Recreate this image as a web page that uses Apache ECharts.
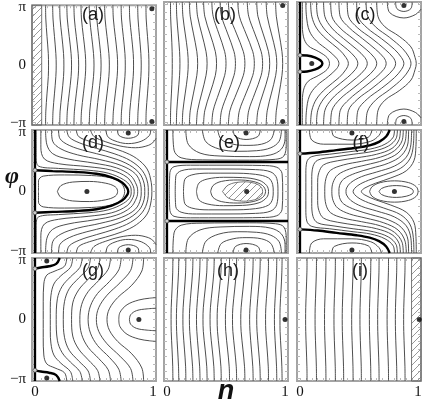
<!DOCTYPE html>
<html>
<head>
<meta charset="utf-8">
<title>phase portraits (a)-(i)</title>
<script src="https://cdn.jsdelivr.net/npm/echarts@6/dist/echarts.min.js"></script>
<style>
  html, body { margin: 0; padding: 0; background: #fff; }
  #chart { width: 425px; height: 407px; }
</style>
</head>
<body>
<div id="chart"></div>
<script>
// n runs 0..1, phi is kept in units of pi (1 = π)
const panelNames = ['(a)', '(b)', '(c)', '(d)', '(e)', '(f)', '(g)', '(h)', '(i)']
const nTicks = [0, 0.05, 0.1, 0.15, 0.2, 0.25, 0.3, 0.35, 0.4, 0.45, 0.5, 0.55, 0.6, 0.65, 0.7, 0.75, 0.8, 0.85, 0.9, 0.95, 1]
const phiTicks = [-1, -0.875, -0.75, -0.625, -0.5, -0.375, -0.25, -0.125, 0, 0.125, 0.25, 0.375, 0.5, 0.625, 0.75, 0.875, 1]
const nLabelValues = [0, 1]
const nLabels = ['0', '1']
const phiLabelValues = [-1, 0, 1]
const phiLabels = ['−π', '0', 'π']

// near-vertical curves: n read at these phi rows (upper half, mirrored below)
const phiSteps = [1.04, 0.8, 0.5, 0.2, 0]

// (a)
const aCurves = [
  [0.090, 0.092, 0.102, 0.113, 0.115],
  [0.150, 0.153, 0.165, 0.177, 0.180],
  [0.210, 0.213, 0.228, 0.242, 0.245],
  [0.270, 0.274, 0.290, 0.306, 0.310],
  [0.330, 0.334, 0.350, 0.366, 0.370],
  [0.390, 0.394, 0.410, 0.426, 0.430],
  [0.460, 0.464, 0.480, 0.496, 0.500],
  [0.520, 0.524, 0.540, 0.556, 0.560],
  [0.590, 0.594, 0.610, 0.626, 0.630],
  [0.660, 0.664, 0.680, 0.696, 0.700],
  [0.730, 0.733, 0.748, 0.762, 0.765],
  [0.800, 0.803, 0.818, 0.832, 0.835],
  [0.870, 0.873, 0.885, 0.897, 0.900],
  [0.940, 0.942, 0.953, 0.963, 0.965]
]
const aHatch = [[-0.025, 0], [-0.025, 1.04], [0.057, 1.04], [0.057, 0]]
const aDots = [[0.99, 0.98], [0.99, -0.98]]

// (b)
const bCurves = [
  [0.030, 0.031, 0.038, 0.044, 0.045],
  [0.080, 0.083, 0.095, 0.107, 0.110],
  [0.130, 0.135, 0.155, 0.175, 0.180],
  [0.190, 0.197, 0.225, 0.253, 0.260],
  [0.250, 0.259, 0.295, 0.331, 0.340],
  [0.310, 0.320, 0.365, 0.410, 0.420],
  [0.380, 0.391, 0.440, 0.489, 0.500],
  [0.450, 0.462, 0.515, 0.568, 0.580],
  [0.520, 0.533, 0.590, 0.647, 0.660],
  [0.600, 0.613, 0.670, 0.727, 0.740],
  [0.680, 0.692, 0.745, 0.798, 0.810],
  [0.760, 0.770, 0.815, 0.860, 0.870],
  [0.840, 0.849, 0.885, 0.921, 0.930],
  [0.920, 0.926, 0.950, 0.974, 0.980]
]
const bDots = [[0.98, 0.98], [0.98, -0.98]]

// (c)
const cLines = [
  [[0.02, 1.04], [0.02, 0.7], [0.03, 0.45], [0.07, 0.3], [0.16, 0.2], [0.23, 0.1], [0.25, 0]],
  [[0.05, 1.04], [0.055, 0.8], [0.08, 0.55], [0.14, 0.38], [0.24, 0.22], [0.31, 0.09], [0.33, 0]],
  [[0.09, 1.04], [0.10, 0.8], [0.14, 0.6], [0.22, 0.42], [0.33, 0.24], [0.39, 0.1], [0.41, 0]],
  [[0.14, 1.04], [0.15, 0.8], [0.20, 0.6], [0.29, 0.42], [0.40, 0.24], [0.47, 0.1], [0.49, 0]],
  [[0.20, 1.04], [0.21, 0.8], [0.27, 0.6], [0.37, 0.42], [0.48, 0.24], [0.55, 0.1], [0.57, 0]],
  [[0.26, 1.04], [0.27, 0.8], [0.34, 0.6], [0.45, 0.42], [0.56, 0.24], [0.63, 0.1], [0.65, 0]],
  [[0.33, 1.04], [0.34, 0.8], [0.42, 0.6], [0.53, 0.42], [0.64, 0.24], [0.71, 0.1], [0.73, 0]],
  [[0.40, 1.04], [0.41, 0.8], [0.49, 0.6], [0.61, 0.42], [0.72, 0.24], [0.79, 0.1], [0.81, 0]],
  [[0.48, 1.04], [0.49, 0.8], [0.57, 0.6], [0.69, 0.42], [0.80, 0.24], [0.86, 0.1], [0.88, 0]],
  [[0.56, 1.04], [0.57, 0.82], [0.64, 0.62], [0.76, 0.44], [0.87, 0.25], [0.925, 0.1], [0.94, 0]],
  [[0.65, 1.04], [0.66, 0.8], [0.72, 0.62], [0.84, 0.46], [0.94, 0.28], [0.975, 0.1], [0.985, 0]],
  [[0.81, 1.04], [0.82, 0.93], [0.88, 0.88], [0.94, 0.93], [0.95, 1.04]],
  [[0.74, 1.04], [0.76, 0.86], [0.88, 0.77], [0.98, 0.83], [1.025, 0.92]]
]
const cThick = [
  [[0, 1.04], [0, 0]],
  [[0, 0.14], [0.06, 0.135], [0.13, 0.10], [0.175, 0.05], [0.19, 0]]
]
const cDots = [[0.10, 0], [0.88, 0.98], [0.88, -0.98]]
const cStars = [[0, 0.14], [0, -0.14]]

// (d)
const dLines = [
  [[0.19, 0], [0.22, 0.1], [0.32, 0.16], [0.46, 0.17], [0.60, 0.14], [0.68, 0.08], [0.70, 0]],
  [[0.03, 0], [0.03, 0.18], [0.07, 0.26], [0.25, 0.28], [0.48, 0.27], [0.64, 0.23], [0.73, 0.14], [0.76, 0]],
  [[0.01, 1.04], [0.01, 0.6], [0.03, 0.43], [0.2, 0.39], [0.45, 0.36], [0.62, 0.31], [0.75, 0.2], [0.81, 0.08], [0.815, 0]],
  [[0.05, 1.04], [0.05, 0.75], [0.08, 0.55], [0.2, 0.47], [0.45, 0.42], [0.65, 0.36], [0.78, 0.24], [0.83, 0.1], [0.84, 0]],
  [[0.09, 1.04], [0.10, 0.8], [0.15, 0.64], [0.28, 0.55], [0.5, 0.48], [0.69, 0.40], [0.81, 0.27], [0.86, 0.11], [0.87, 0]],
  [[0.14, 1.04], [0.15, 0.85], [0.22, 0.72], [0.36, 0.62], [0.55, 0.54], [0.73, 0.44], [0.85, 0.3], [0.895, 0.12], [0.90, 0]],
  [[0.20, 1.04], [0.21, 0.9], [0.29, 0.78], [0.44, 0.68], [0.6, 0.6], [0.77, 0.48], [0.88, 0.32], [0.925, 0.13], [0.93, 0]],
  [[0.27, 1.04], [0.29, 0.92], [0.38, 0.82], [0.52, 0.73], [0.67, 0.64], [0.81, 0.52], [0.91, 0.35], [0.955, 0.14], [0.96, 0]],
  [[0.35, 1.04], [0.37, 0.93], [0.46, 0.85], [0.6, 0.77], [0.74, 0.68], [0.86, 0.56], [0.95, 0.38], [0.985, 0.15], [0.99, 0]],
  [[0.70, 1.04], [0.71, 0.95], [0.79, 0.9], [0.87, 0.95], [0.88, 1.04]],
  [[0.60, 1.04], [0.62, 0.92], [0.70, 0.84], [0.79, 0.81], [0.90, 0.85], [0.97, 0.95], [0.98, 1.04]],
  [[0.47, 1.04], [0.50, 0.93], [0.60, 0.84], [0.72, 0.77], [0.85, 0.74], [0.96, 0.78], [1.01, 0.85], [1.025, 0.9]]
]
const dThick = [
  [[0, 1.04], [0, 0]],
  [[0, 0.36], [0.15, 0.345], [0.35, 0.33], [0.52, 0.3], [0.65, 0.24], [0.74, 0.15], [0.78, 0.06], [0.79, 0]]
]
const dDots = [[0.44, 0], [0.79, 0.99], [0.79, -0.99]]
const dStars = [[0, 0.36], [0, -0.36]]

// (e)
const eLines = [
  [[0.02, 0], [0.025, 0.32], [0.06, 0.42], [0.2, 0.445], [0.5, 0.445], [0.8, 0.44], [0.93, 0.41], [0.975, 0.3], [0.98, 0]],
  [[0.07, 0], [0.075, 0.26], [0.12, 0.35], [0.25, 0.38], [0.5, 0.38], [0.75, 0.37], [0.88, 0.33], [0.93, 0.22], [0.94, 0]],
  [[0.14, 0], [0.15, 0.2], [0.21, 0.28], [0.35, 0.31], [0.55, 0.31], [0.75, 0.29], [0.86, 0.23], [0.895, 0.12], [0.90, 0]],
  [[0.25, 0], [0.27, 0.14], [0.34, 0.21], [0.48, 0.24], [0.64, 0.235], [0.78, 0.19], [0.845, 0.1], [0.86, 0]],
  [[0.37, 0], [0.39, 0.1], [0.46, 0.17], [0.6, 0.195], [0.73, 0.17], [0.81, 0.1], [0.835, 0]],
  [[0.56, 1.04], [0.58, 0.93], [0.67, 0.88], [0.77, 0.93], [0.79, 1.04]],
  [[0.43, 1.04], [0.46, 0.88], [0.56, 0.8], [0.67, 0.78], [0.80, 0.8], [0.88, 0.88], [0.91, 1.04]],
  [[0.30, 1.04], [0.33, 0.84], [0.44, 0.72], [0.60, 0.68], [0.76, 0.69], [0.88, 0.74], [0.95, 0.85], [0.97, 1.04]],
  [[0.16, 1.04], [0.18, 0.8], [0.28, 0.65], [0.45, 0.6], [0.70, 0.59], [0.88, 0.62], [0.97, 0.72], [1.0, 0.9], [1.0, 1.04]],
  [[0.05, 1.04], [0.06, 0.7], [0.12, 0.57], [0.30, 0.535], [0.70, 0.53], [0.92, 0.545], [0.99, 0.6], [1.01, 0.8], [1.01, 1.04]]
]
const eThick = [
  [[0, 1.04], [0, 0]],
  [[0, 0.5], [1.025, 0.5]]
]
const eHatch = [[0.47, 0], [0.52, 0.11], [0.62, 0.16], [0.72, 0.15], [0.79, 0.09], [0.81, 0]]
const eDots = [[0.675, 0], [0.67, 0.99], [0.67, -0.99]]
const eStars = [[0, 0.5], [0, -0.5]]

// (f)
const fLines = [
  [[0.27, 1.04], [0.29, 0.93], [0.44, 0.87], [0.58, 0.92], [0.61, 1.04]],
  [[0.08, 1.04], [0.10, 0.87], [0.20, 0.8], [0.44, 0.8], [0.60, 0.85], [0.67, 0.95], [0.69, 1.04]],
  [[0.80, 1.04], [0.79, 0.92], [0.72, 0.8], [0.6, 0.72], [0.45, 0.68], [0.25, 0.63], [0.1, 0.59], [0.058, 0.5], [0.05, 0.3], [0.05, 0]],
  [[0.825, 1.04], [0.815, 0.9], [0.75, 0.77], [0.62, 0.68], [0.45, 0.63], [0.28, 0.58], [0.15, 0.53], [0.11, 0.42], [0.10, 0.2], [0.10, 0]],
  [[0.85, 1.04], [0.84, 0.88], [0.78, 0.73], [0.65, 0.63], [0.48, 0.57], [0.32, 0.52], [0.2, 0.45], [0.16, 0.32], [0.15, 0.15], [0.15, 0]],
  [[0.875, 1.04], [0.865, 0.86], [0.8, 0.69], [0.68, 0.58], [0.52, 0.51], [0.37, 0.45], [0.26, 0.36], [0.22, 0.22], [0.21, 0]],
  [[0.90, 1.04], [0.89, 0.84], [0.83, 0.65], [0.71, 0.53], [0.56, 0.45], [0.42, 0.38], [0.32, 0.28], [0.28, 0.15], [0.27, 0]],
  [[0.92, 1.04], [0.915, 0.82], [0.86, 0.61], [0.75, 0.48], [0.6, 0.39], [0.47, 0.31], [0.37, 0.21], [0.335, 0.1], [0.33, 0]],
  [[0.945, 1.04], [0.94, 0.8], [0.9, 0.58], [0.8, 0.43], [0.65, 0.33], [0.52, 0.25], [0.43, 0.15], [0.395, 0.06], [0.39, 0]],
  [[0.965, 1.04], [0.96, 0.78], [0.93, 0.55], [0.85, 0.39], [0.71, 0.28], [0.58, 0.19], [0.49, 0.1], [0.45, 0]],
  [[0.985, 1.04], [0.982, 0.76], [0.965, 0.52], [0.9, 0.35], [0.77, 0.23], [0.64, 0.14], [0.55, 0.06], [0.52, 0]],
  [[0.59, 0], [0.61, 0.08], [0.68, 0.15], [0.8, 0.18], [0.92, 0.15], [0.985, 0.08], [1.0, 0]],
  [[0.67, 0], [0.69, 0.05], [0.75, 0.09], [0.82, 0.1], [0.9, 0.08], [0.95, 0.04], [0.96, 0]]
]
const fThick = [
  [[0, 1.04], [0, 0]],
  [[0, 0.64], [0.15, 0.66], [0.31, 0.70], [0.48, 0.74], [0.59, 0.78], [0.67, 0.84], [0.73, 0.93], [0.76, 1.04]]
]
const fDots = [[0.80, 0], [0.44, 0.99], [0.44, -0.99]]
const fStars = [[0, 0.64], [0, -0.64]]

// (g)
const gLines = [
  [[0.27, 1.04], [0.25, 0.9], [0.17, 0.82], [0.1, 0.75], [0.075, 0.6], [0.07, 0.3], [0.07, 0]],
  [[0.32, 1.04], [0.30, 0.88], [0.22, 0.74], [0.16, 0.6], [0.135, 0.4], [0.13, 0.2], [0.13, 0]],
  [[0.40, 1.04], [0.38, 0.88], [0.30, 0.72], [0.23, 0.56], [0.19, 0.35], [0.18, 0]],
  [[0.47, 1.04], [0.45, 0.87], [0.37, 0.7], [0.29, 0.52], [0.25, 0.3], [0.24, 0]],
  [[0.55, 1.04], [0.53, 0.86], [0.45, 0.68], [0.37, 0.5], [0.32, 0.28], [0.31, 0]],
  [[0.64, 1.04], [0.62, 0.85], [0.54, 0.66], [0.45, 0.47], [0.395, 0.25], [0.38, 0]],
  [[0.73, 1.04], [0.71, 0.84], [0.63, 0.64], [0.53, 0.44], [0.47, 0.23], [0.45, 0]],
  [[0.83, 1.04], [0.81, 0.83], [0.72, 0.62], [0.61, 0.41], [0.54, 0.2], [0.52, 0]],
  [[0.92, 1.04], [0.905, 0.82], [0.82, 0.58], [0.70, 0.37], [0.63, 0.18], [0.61, 0]],
  [[0.71, 0], [0.72, 0.12], [0.78, 0.25], [0.88, 0.33], [0.97, 0.36], [1.025, 0.37]],
  [[0.80, 0], [0.81, 0.08], [0.86, 0.15], [0.95, 0.18], [1.025, 0.19]]
]
const gThick = [
  [[0, 1.04], [0, 0]],
  [[0, 0.86], [0.05, 0.88], [0.12, 0.9], [0.18, 0.94], [0.21, 1.04]]
]
const gDots = [[0.88, 0], [0.10, 0.99], [0.10, -0.99]]
const gStars = [[0, 0.86], [0, -0.86]]

// (h)
const hCurves = [
  [0.050, 0.049, 0.043, 0.036, 0.035],
  [0.100, 0.098, 0.090, 0.082, 0.080],
  [0.160, 0.158, 0.148, 0.137, 0.135],
  [0.220, 0.217, 0.205, 0.193, 0.190],
  [0.280, 0.277, 0.265, 0.253, 0.250],
  [0.340, 0.337, 0.323, 0.308, 0.305],
  [0.400, 0.397, 0.383, 0.368, 0.365],
  [0.460, 0.457, 0.443, 0.428, 0.425],
  [0.530, 0.527, 0.513, 0.498, 0.495],
  [0.590, 0.587, 0.573, 0.558, 0.555],
  [0.660, 0.657, 0.643, 0.628, 0.625],
  [0.730, 0.727, 0.715, 0.703, 0.700],
  [0.790, 0.787, 0.775, 0.763, 0.760],
  [0.860, 0.858, 0.848, 0.837, 0.835],
  [0.930, 0.928, 0.920, 0.912, 0.910],
  [0.975, 0.973, 0.966, 0.958, 0.957]
]
const hDots = [[1.0, 0]]

// (i)
const iCurves = [
  [0.060, 0.059, 0.054, 0.049, 0.048],
  [0.140, 0.139, 0.134, 0.129, 0.128],
  [0.220, 0.219, 0.214, 0.209, 0.208],
  [0.300, 0.299, 0.294, 0.289, 0.288],
  [0.370, 0.369, 0.364, 0.359, 0.358],
  [0.450, 0.449, 0.444, 0.439, 0.438],
  [0.520, 0.519, 0.514, 0.509, 0.508],
  [0.600, 0.599, 0.594, 0.589, 0.588],
  [0.670, 0.669, 0.664, 0.659, 0.658],
  [0.750, 0.749, 0.744, 0.739, 0.738],
  [0.820, 0.819, 0.814, 0.809, 0.808],
  [0.890, 0.889, 0.884, 0.879, 0.878]
]
const iHatch = [[0.945, 0], [0.945, 1.04], [1.025, 1.04], [1.025, 0]]
const iDots = [[1.01, 0]]

const panels = [
  { curves: aCurves, lines: [], thick: [], dots: aDots, stars: [], hatch: aHatch },
  { curves: bCurves, lines: [], thick: [], dots: bDots, stars: [], hatch: null },
  { curves: [], lines: cLines, thick: cThick, dots: cDots, stars: cStars, hatch: null },
  { curves: [], lines: dLines, thick: dThick, dots: dDots, stars: dStars, hatch: null },
  { curves: [], lines: eLines, thick: eThick, dots: eDots, stars: eStars, hatch: eHatch, round: true },
  { curves: [], lines: fLines, thick: fThick, dots: fDots, stars: fStars, hatch: null },
  { curves: [], lines: gLines, thick: gThick, dots: gDots, stars: gStars, hatch: null },
  { curves: hCurves, lines: [], thick: [], dots: hDots, stars: [], hatch: null },
  { curves: iCurves, lines: [], thick: [], dots: iDots, stars: [], hatch: iHatch }
]

// layout of the 3x3 frames (px)
const colX = [32, 164, 297]
const rowY = [2, 130, 258]
const boxW = 124
const boxH = 123
const labelXY = [[93, 15], [225, 15], [365, 15], [93, 143], [229, 143], [361, 143], [93, 271], [228, 271], [360, 271]]

// the plots are symmetric in phi: upper half given, lower half is its mirror
const mirror = (half) => {
  const last = half[half.length - 1]
  if (last[1] === 0) {
    const back = half.slice(0, -1).reverse().map(([n, p]) => [n, -p])
    return [half.concat(back)]
  }
  return [half, half.map(([n, p]) => [n, -p])]
}
const fromSteps = (vals) => vals.map((n, k) => [n, phiSteps[k]])

// diagonal hatch pattern
const makeHatch = () => {
  const cv = document.createElement('canvas')
  cv.width = 7
  cv.height = 7
  const ctx = cv.getContext('2d')
  ctx.strokeStyle = '#8c8c8c'
  ctx.lineWidth = 0.9
  ctx.beginPath()
  ctx.moveTo(0, 7); ctx.lineTo(7, 0)
  ctx.moveTo(-1, 1); ctx.lineTo(1, -1)
  ctx.moveTo(6, 8); ctx.lineTo(8, 6)
  ctx.stroke()
  return cv
}
const hatchImg = makeHatch()

const serif = '"Liberation Serif", "DejaVu Serif", serif'
const sans = '"Liberation Sans", Arial, sans-serif'

const grids = []
const xAxes = []
const yAxes = []
const series = []

const thinStyle = { color: '#444', width: 0.95 }
const thickStyle = { color: '#000', width: 2.4 }

panels.forEach((pn, i) => {
  const r = Math.floor(i / 3)
  const c = i % 3
  grids.push({
    left: colX[c], top: rowY[r], width: boxW, height: boxH,
    show: true, borderColor: '#a4a4a4', borderWidth: 2
  })
  const tickStyle = { inside: true, length: 3, lineStyle: { color: '#b9b9b9', width: 1 } }
  const noLine = { show: false, onZero: false }
  xAxes.push({
    gridIndex: i, type: 'value', min: -0.025, max: 1.025, position: 'bottom',
    axisLine: noLine, splitLine: { show: false },
    axisTick: { ...tickStyle, customValues: nTicks },
    axisLabel: {
      show: r === 2, customValues: nLabelValues, margin: 4,
      formatter: (v) => nLabels[nLabelValues.indexOf(v)],
      fontFamily: serif, fontSize: 15, color: '#111'
    }
  })
  xAxes.push({
    gridIndex: i, type: 'value', min: -0.025, max: 1.025, position: 'top',
    axisLine: noLine, splitLine: { show: false },
    axisTick: { ...tickStyle, customValues: nTicks }, axisLabel: { show: false }
  })
  yAxes.push({
    gridIndex: i, type: 'value', min: -1.04, max: 1.04, position: 'left',
    axisLine: noLine, splitLine: { show: false },
    axisTick: { ...tickStyle, customValues: phiTicks },
    axisLabel: {
      show: c === 0, customValues: phiLabelValues, margin: 6,
      formatter: (v) => phiLabels[phiLabelValues.indexOf(v)],
      fontFamily: serif, fontSize: 15, color: '#111'
    }
  })
  yAxes.push({
    gridIndex: i, type: 'value', min: -1.04, max: 1.04, position: 'right',
    axisLine: noLine, splitLine: { show: false },
    axisTick: { ...tickStyle, customValues: phiTicks }, axisLabel: { show: false }
  })

  const ax = { xAxisIndex: i * 2, yAxisIndex: i * 2 }

  if (pn.hatch) {
    const poly = mirror(pn.hatch)
    const pts = poly.length === 1 ? poly[0] : poly[0].concat(poly[1].slice().reverse())
    series.push({
      type: 'custom', ...ax, silent: true, animation: false, z: 1,
      data: [[0, 0]],
      renderItem: (params, api) => ({
        type: 'polygon',
        shape: { points: pts.map((pt) => api.coord(pt)), smooth: pn.round ? 0.4 : 0 },
        style: { fill: { image: hatchImg, repeat: 'repeat' }, stroke: '#555', lineWidth: 0.8 }
      })
    })
  }

  const addLine = (pts, style) => {
    series.push({
      type: 'line', ...ax, data: pts, smooth: 0.35, showSymbol: false,
      silent: true, animation: false, lineStyle: style, z: 2
    })
  }
  pn.curves.forEach((vals) => mirror(fromSteps(vals)).forEach((pts) => addLine(pts, thinStyle)))
  pn.lines.forEach((half) => mirror(half).forEach((pts) => addLine(pts, thinStyle)))
  pn.thick.forEach((half) => mirror(half).forEach((pts) => addLine(pts, thickStyle)))

  series.push({
    type: 'scatter', ...ax, data: pn.dots, symbolSize: 5, silent: true, animation: false, z: 4,
    itemStyle: { color: '#000' }
  })
  if (pn.stars.length) {
    series.push({
      type: 'scatter', ...ax, data: pn.stars, symbol: 'circle', symbolSize: 4, silent: true,
      animation: false, z: 4, itemStyle: { color: '#fff', borderColor: '#444', borderWidth: 1 }
    })
  }
})

const graphic = panelNames.map((t, i) => ({
  type: 'text', x: labelXY[i][0], y: labelXY[i][1], z: 10,
  style: { text: t, font: '18px ' + sans, fill: '#1a1a1a', textAlign: 'center', textVerticalAlign: 'middle' }
}))
graphic.push({
  type: 'text', x: 12, y: 177, z: 10,
  style: { text: 'φ', font: 'italic bold 24px ' + serif, fill: '#111', textAlign: 'center', textVerticalAlign: 'middle' }
})
graphic.push({
  type: 'text', x: 226, y: 392, z: 10,
  style: { text: 'n', font: 'italic bold 27px ' + sans, fill: '#111', textAlign: 'center', textVerticalAlign: 'middle' }
})

const chart = echarts.init(document.getElementById('chart'))
chart.setOption({
  animation: false,
  grid: grids,
  xAxis: xAxes,
  yAxis: yAxes,
  series: series,
  graphic: graphic
})
window.addEventListener('resize', () => chart.resize())
</script>
</body>
</html>
